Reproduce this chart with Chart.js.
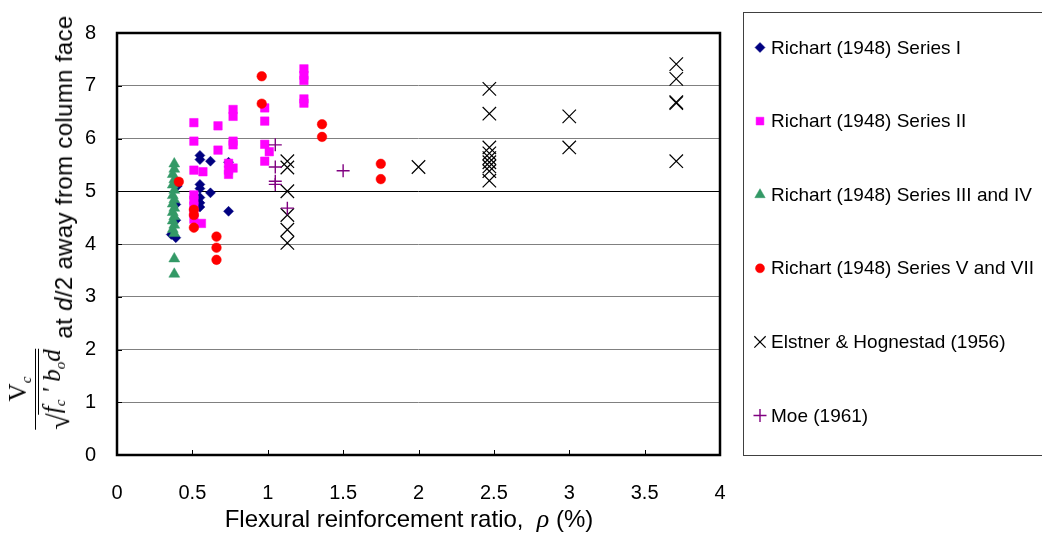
<!DOCTYPE html>
<html>
<head>
<meta charset="utf-8">
<script src="https://cdn.jsdelivr.net/npm/chart.js@4.4.1/dist/chart.umd.min.js"></script>
<style>
  html, body { margin: 0; padding: 0; background: #fff; }
  #wrap { position: relative; width: 1042px; height: 542px; overflow: hidden;
          font-family: 'Liberation Sans', Arial, sans-serif; color: #000; }
  #c { position: absolute; left: 0; top: 0; }
  .rot { position: absolute; white-space: nowrap; line-height: 1;
         transform: translate(-50%, -50%) rotate(-90deg); }
  #ytitle { left: 64px; top: 177px; font-size: 24px; letter-spacing: 0.35px; }
  #yfrac { left: 39px; top: 389px; font-family: 'Liberation Serif', 'Times New Roman', serif;
           font-size: 25px; display: flex; flex-direction: column; align-items: center; }
  #yfrac sub { font-size: 15px; vertical-align: -5px; font-style: italic; }
  #yfrac .num { padding: 0 4px 1px; }
  #yfrac .den { border-top: 1.5px solid #000; padding-top: 2px; display: flex; align-items: flex-end; }
  #yfrac .rad { font-size: 30px; line-height: 28px; margin-right: -1px; }
  #yfrac .under { border-top: 1.2px solid #000; font-style: italic; padding: 0 1px; line-height: 25px; }
  #xtitle { position: absolute; left: 409px; top: 506px; transform: translateX(-50%);
            font-size: 24px; white-space: nowrap; line-height: 1; }
  #xtitle i { font-family: 'Liberation Serif', 'Times New Roman', serif; font-size: 26px; }
  #legend { position: absolute; left: 743px; top: 12px; width: 330px; height: 444px;
            border: 1px solid #404040; box-sizing: border-box; }
  .lg { position: absolute; left: 771px; font-size: 19px; line-height: 24px; white-space: nowrap; }
</style>
</head>
<body>
<div id="wrap">
  <canvas id="c" width="1042" height="542"></canvas>
  <div id="legend"></div>
  <div id="ytitle" class="rot">at <i>d</i>/2 away from column face</div>
  <div id="yfrac" class="rot">
    <span class="num">V<sub>c</sub></span>
    <span class="den"><span class="rad">√</span><span class="under">f<sub>c</sub> ' b<sub>o</sub>d</span></span>
  </div>
  <div id="xtitle">Flexural reinforcement ratio,&nbsp; <i>ρ</i> (%)</div>
</div>
<script>
// values
const seriesNames = ['Richart (1948) Series I', 'Richart (1948) Series II',
  'Richart (1948) Series III and IV', 'Richart (1948) Series V and VII',
  'Elstner & Hognestad (1956)', 'Moe (1961)'];

const s1x = [0.36, 0.39, 0.39, 0.39, 0.40, 0.55, 0.55, 0.62, 0.74, 0.55, 0.55, 0.62, 0.55, 0.55, 0.55, 0.74];
const s1y = [4.18, 4.12, 4.45, 4.75, 5.10, 5.68, 5.60, 5.57, 5.55, 5.13, 5.05, 4.97, 4.88, 4.78, 4.70, 4.62];

const s2x = [0.51, 0.51, 0.51, 0.57, 0.51, 0.51, 0.51, 0.51, 0.51, 0.56, 0.67, 0.67, 0.77, 0.77, 0.77,
             0.77, 0.74, 0.74, 0.77, 0.74, 0.98, 0.98, 0.98, 1.01, 0.98, 1.24, 1.24, 1.24, 1.24, 1.24];
const s2y = [6.30, 5.95, 5.40, 5.37, 4.93, 4.83, 4.72, 4.60, 4.47, 4.39, 6.24, 5.78, 6.55, 6.42, 5.95,
             5.88, 5.53, 5.40, 5.44, 5.32, 6.58, 6.33, 5.89, 5.75, 5.57, 7.32, 7.20, 7.10, 6.75, 6.67];

const s3x = [0.38, 0.38, 0.37, 0.38, 0.37, 0.38, 0.37, 0.38, 0.37, 0.38, 0.37, 0.38, 0.37, 0.38, 0.37, 0.38, 0.38, 0.38];
const s3y = [5.52, 5.42, 5.32, 5.22, 5.12, 5.02, 4.92, 4.84, 4.76, 4.68, 4.60, 4.52, 4.44, 4.36, 4.28, 4.20, 3.72, 3.43];

const s4x = [0.41, 0.51, 0.51, 0.51, 0.66, 0.66, 0.66, 0.96, 0.96, 1.36, 1.36, 1.75, 1.75];
const s4y = [5.18, 4.65, 4.55, 4.31, 4.14, 3.93, 3.70, 7.18, 6.66, 6.27, 6.03, 5.52, 5.23];

const s5x = [1.13, 1.13, 1.13, 1.13, 1.13, 1.13, 2.00, 2.47, 2.47, 2.47, 2.47, 2.47, 2.47,
             2.47, 2.47, 2.47, 3.00, 3.00, 3.71, 3.71, 3.71, 3.71, 3.71];
const s5y = [5.57, 5.45, 5.00, 4.55, 4.27, 4.02, 5.46, 6.94, 6.47, 5.83, 5.72, 5.63, 5.55,
             5.47, 5.38, 5.20, 6.42, 5.83, 7.41, 7.13, 6.69, 6.67, 5.57];

const s6x = [1.05, 1.05, 1.05, 1.05, 1.13, 1.50];
const s6y = [5.88, 5.46, 5.19, 5.13, 4.68, 5.39];

const xTicks = [0, 0.5, 1, 1.5, 2, 2.5, 3, 3.5, 4];
const xTickLabels = ['0', '0.5', '1', '1.5', '2', '2.5', '3', '3.5', '4'];
const yTicks = [0, 1, 2, 3, 4, 5, 6, 7, 8];

const xs = [s1x, s2x, s3x, s4x, s5x, s6x];
const ys = [s1y, s2y, s3y, s4y, s5y, s6y];

// marker look per series
const looks = [
  { style: 'rectRot',  color: '#000080', r: 5,   lr: 5,   bw: 0.5 },
  { style: 'rect',     color: '#FF00FF', r: 6,   lr: 5.5, bw: 0.5 },
  { style: 'triangle', color: '#339966', r: 6.3, lr: 6,   bw: 0.5 },
  { style: 'circle',   color: '#FF0000', r: 4.8, lr: 4.5, bw: 0.5 },
  { style: 'crossRot', color: '#000000', r: 9.5, lr: 8,   bw: 1.2 },
  { style: 'cross',    color: '#800080', r: 6.5, lr: 6.5, bw: 1.4 }
];

const datasets = seriesNames.map((name, i) => ({
  label: name,
  data: xs[i].map((x, k) => ({ x, y: ys[i][k] })),
  pointStyle: looks[i].style,
  pointRadius: looks[i].r,
  pointBorderWidth: looks[i].bw,
  backgroundColor: looks[i].color,
  borderColor: looks[i].color,
  order: seriesNames.length - i   // later series on top, as in the original
}));

const FONT = "'Liberation Sans', Arial, sans-serif";

const frame = {
  id: 'frame',
  beforeDatasetsDraw(chart) {
    const { ctx, chartArea: a, scales: { x, y } } = chart;
    ctx.save();
    ctx.strokeStyle = '#000';
    ctx.lineWidth = 1;
    ctx.beginPath();
    xTicks.forEach(v => {
      const px = Math.round(x.getPixelForValue(v)) + 0.5;
      ctx.moveTo(px, a.bottom); ctx.lineTo(px, a.bottom - 5);
    });
    yTicks.forEach(v => {
      const py = Math.round(y.getPixelForValue(v)) + 0.5;
      ctx.moveTo(a.left, py); ctx.lineTo(a.left + 5, py);
    });
    ctx.stroke();
    ctx.lineWidth = 2.5;
    ctx.strokeRect(a.left, a.top, a.right - a.left, a.bottom - a.top);
    ctx.restore();
  },
  afterDraw(chart) {
    const ctx = chart.ctx;
    looks.forEach((lk, i) => {
      ctx.save();
      ctx.fillStyle = lk.color;
      ctx.strokeStyle = lk.color;
      ctx.lineWidth = lk.bw;
      Chart.helpers.drawPoint(ctx, { pointStyle: lk.style, radius: lk.lr, rotation: 0, borderWidth: lk.bw },
        760, 47.5 + i * 73.6);
      ctx.restore();
    });
  }
};

seriesNames.forEach((name, i) => {
  const d = document.createElement('div');
  d.className = 'lg';
  d.style.top = (47.5 + i * 73.6 - 12) + 'px';
  d.textContent = name;
  document.getElementById('wrap').appendChild(d);
});

new Chart(document.getElementById('c'), {
  type: 'scatter',
  data: { datasets },
  options: {
    responsive: false,
    animation: false,
    devicePixelRatio: 1,
    events: [],
    layout: { padding: { top: 16, right: 322, left: 0, bottom: 0 } },
    plugins: { legend: { display: false }, tooltip: { enabled: false } },
    scales: {
      x: {
        type: 'linear', min: 0, max: 4,
        afterBuildTicks: s => { s.ticks = xTicks.map(v => ({ value: v })); },
        afterFit: s => { s.height = 87; },
        grid: { display: false, drawTicks: false },
        border: { display: false },
        ticks: {
          color: '#000', padding: 26, maxRotation: 0, autoSkip: false,
          font: { family: FONT, size: 20 },
          callback: (v, idx) => xTickLabels[idx]
        }
      },
      y: {
        type: 'linear', min: 0, max: 8,
        afterBuildTicks: s => { s.ticks = yTicks.map(v => ({ value: v })); },
        afterFit: s => { s.width = 117; },
        grid: {
          drawTicks: false, lineWidth: 1,
          color: c => (c.tick && c.tick.value === 5) ? '#000000' : '#808080'
        },
        border: { display: false },
        ticks: {
          color: '#000', padding: 21,
          font: { family: FONT, size: 20 },
          callback: v => String(v)
        }
      }
    }
  },
  plugins: [frame]
});
</script>
</body>
</html>
